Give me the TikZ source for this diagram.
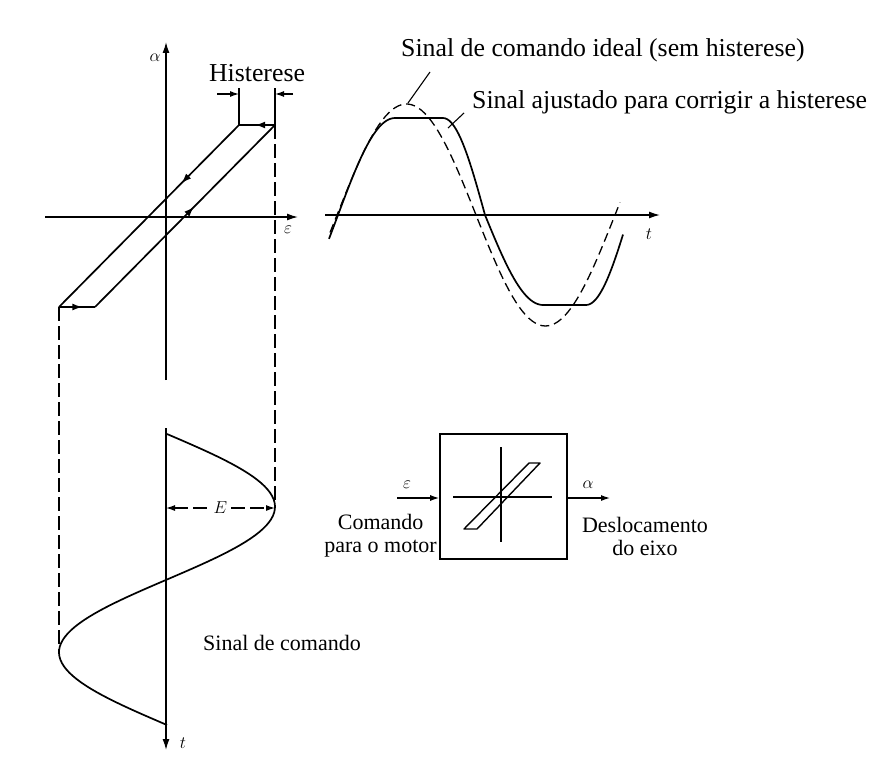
\documentclass[tikz,border=0pt]{standalone}
\usepackage{fontspec}
\setmainfont{Liberation Serif}
\usetikzlibrary{arrows.meta, positioning, calc, decorations.markings}

\tikzset{
  lbl/.style={font=\fontsize{25.8}{27}\selectfont, inner sep=0pt},
  lblsm/.style={font=\fontsize{22}{23}\selectfont, inner sep=0pt, align=center},
  sym/.style={font=\fontsize{18}{19}\selectfont, inner sep=1pt},
  curve/.style={line width=1.7pt, line join=round},
  axis/.style={line width=1.4pt, -{Latex[length=11pt,width=7pt]}},
  guide/.style={line width=1.2pt, dash pattern=on 14pt off 5pt},
  dimarr/.style={line width=1.2pt, -{Latex[length=9pt,width=6pt]}},
  midarr/.style={postaction={decorate}, decoration={markings,
      mark=at position #1 with {\arrow{Latex[length=10pt,width=7pt]}}}},
}

\begin{document}
\begin{tikzpicture}[x=1pt, y=-1pt]
    \useasboundingbox (0,0) rectangle (874,765);

    % Ciclo de histerese (esquerda)
    \coordinate (BL) at (59,307);
    \coordinate (BR) at (95,307);
    \coordinate (TR) at (275,125);
    \coordinate (TL) at (239,125);
    \draw[axis] (45,217) -- (298,217);
    \draw[axis] (166,380) -- (166,42);
    \node[sym] (alf) at (155,58) {$\alpha$};
    \node[sym] (eps) at (288,230) {$\varepsilon$};
    \draw[curve, midarr=0.55] (BR) -- (TR);
    \draw[curve, midarr=0.55] (TR) -- (TL);
    \draw[curve, midarr=0.32] (TL) -- (BL);
    \draw[curve, midarr=0.65] (BL) -- (BR);

    % Histerese
    \node[lbl] (hist) at (257,73) {Histerese};
    \draw[line width=1.4pt] (TL) -- ++(0,-37);
    \draw[line width=1.4pt] (TR) -- ++(0,-37);
    \draw[dimarr] ($(TL)+(-22,-31)$) -- ($(TL)+(0,-31)$);
    \draw[dimarr] ($(TR)+(18,-31)$) -- ($(TR)+(0,-31)$);

    % Sinal de comando (embaixo)
    \coordinate (sPk) at (275,507);
    \coordinate (sTr) at (59,652);
    \draw[axis] (166,428) -- (166,750);
    \node[sym] (tb) at (183,743) {$t$};
    \draw[curve] plot[domain=434:725, samples=90, variable=\t]
        ({167+108*sin(1.2371*(\t-434))}, {\t});
    \draw[guide] (TR) -- (sPk);
    \draw[guide] (BL) -- (sTr);
    \draw[guide, {Latex[length=9pt,width=6pt]}-{Latex[length=9pt,width=6pt]}]
        (166,508) -- (sPk |- 0,508) node[midway, sym, fill=white, inner sep=4pt] (amp) {$E$};
    \node[lblsm, anchor=west] (sdc) at (203,643) {Sinal de comando};

    % Sinais no tempo (direita)
    \draw[axis] (325,215) -- (660,215);
    \node[sym] (tr) at (649,234) {$t$};
    \draw[curve, line width=1.3pt, dash pattern=on 9pt off 5pt]
        plot[domain=330:620, samples=90] (\x, {215-111*sin(1.295*(\x-337))});
    \draw[curve] plot[domain=329:395, samples=30] (\x, {215-97*sin(1.5789*(\x-338))})
        -- (443,118)
        -- plot[domain=443:485, samples=20] (\x, {215-97*cos(2.1429*(\x-443))})
        -- plot[domain=485:543, samples=25] (\x, {215+90*sin(1.5517*(\x-485))})
        -- (586,305)
        -- plot[domain=586:623, samples=20] (\x, {215+90*cos(2.093*(\x-586))});

    \node[lbl, anchor=west] (ideal) at (401,50) {Sinal de comando ideal (sem histerese)};
    \node[lbl, anchor=west] (ajust) at (472,102) {Sinal ajustado para corrigir a histerese};
    \coordinate (pI) at (408,103);
    \coordinate (pA) at (448,128);
    \draw[line width=1.1pt] (pI) -- (430,72);
    \draw[line width=1.1pt] (pA) -- (464,113);

    % Bloco
    \node[draw, line width=1.7pt, minimum width=127pt, minimum height=125pt] (blk) at (503.5,496.5) {};
    \draw[line width=1.1pt] (453,497) -- (552,497);
    \draw[line width=1.1pt] (501,447) -- (501,542);
    \draw[line width=1.4pt, line join=round] (464,529) -- (477,529) -- (540,463) -- (529,463) -- cycle;
    \coordinate (cin) at (397,498);
    \coordinate (cout) at (610,498);
    \draw[dimarr] (cin) -- (cin -| blk.west);
    \draw[dimarr] (cout -| blk.east) -- (cout);
    \node[sym] (epsin) at (407,485) {$\varepsilon$};
    \node[sym] (alfout) at (588,485) {$\alpha$};
    \node[lblsm, anchor=east] (cmd) at (437,536) {Comando\\para o motor};
    \node[lblsm] (desl) at (645,536) {Deslocamento\\do eixo};
\end{tikzpicture}
\end{document}
